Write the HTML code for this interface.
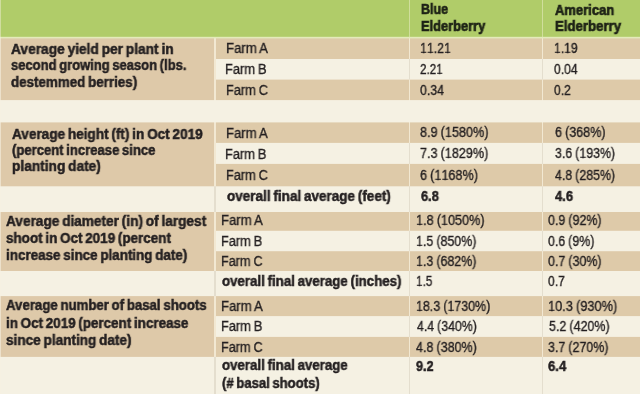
<!DOCTYPE html><html><head><meta charset="utf-8"><style>
html,body{margin:0;padding:0;width:640px;height:394px;overflow:hidden;background:#f5f1e3}
.r{position:absolute}
.o{display:inline-block;line-height:1em;clip-path:polygon(0 0,100% 0,100% 0.785em,0.36em 0.785em,0.36em 100%,0.23em 100%,0.23em 0.785em,0 0.785em)}
.t{position:absolute;white-space:pre;line-height:20px;font-family:"Liberation Sans",sans-serif;color:#231f20;transform-origin:0 0;will-change:transform}
</style></head><body>
<div class="r" style="left:216px;top:0px;width:424px;height:36px;background:#b0cc69"></div>
<div class="r" style="left:216px;top:36px;width:424px;height:1px;background:#bad279"></div>
<div class="r" style="left:216px;top:37px;width:424px;height:1px;background:#e4eabb"></div>
<div class="r" style="left:216px;top:38px;width:424px;height:1px;background:#e0d7b0"></div>
<div class="r" style="left:216px;top:39px;width:424px;height:20px;background:#decaa9"></div>
<div class="r" style="left:216px;top:59px;width:424px;height:20px;background:#f5f1e3"></div>
<div class="r" style="left:216px;top:79px;width:424px;height:1px;background:#ece1cc"></div>
<div class="r" style="left:216px;top:80px;width:424px;height:20px;background:#decaa9"></div>
<div class="r" style="left:216px;top:100px;width:424px;height:1px;background:#f3eddd"></div>
<div class="r" style="left:216px;top:101px;width:424px;height:21px;background:#f5f1e3"></div>
<div class="r" style="left:216px;top:122px;width:424px;height:1px;background:#e7dac0"></div>
<div class="r" style="left:216px;top:123px;width:424px;height:19px;background:#decaa9"></div>
<div class="r" style="left:216px;top:142px;width:424px;height:1px;background:#e0ceaf"></div>
<div class="r" style="left:216px;top:143px;width:424px;height:20px;background:#f5f1e3"></div>
<div class="r" style="left:216px;top:163px;width:424px;height:1px;background:#f3eddd"></div>
<div class="r" style="left:216px;top:164px;width:424px;height:22px;background:#decaa9"></div>
<div class="r" style="left:216px;top:186px;width:424px;height:1px;background:#eee5d2"></div>
<div class="r" style="left:216px;top:187px;width:424px;height:25px;background:#f5f1e3"></div>
<div class="r" style="left:216px;top:212px;width:424px;height:18px;background:#decaa9"></div>
<div class="r" style="left:216px;top:230px;width:424px;height:1px;background:#e3d2b5"></div>
<div class="r" style="left:216px;top:231px;width:424px;height:20px;background:#f5f1e3"></div>
<div class="r" style="left:216px;top:251px;width:424px;height:1px;background:#e3d2b5"></div>
<div class="r" style="left:216px;top:252px;width:424px;height:19px;background:#decaa9"></div>
<div class="r" style="left:216px;top:271px;width:424px;height:25px;background:#f5f1e3"></div>
<div class="r" style="left:216px;top:296px;width:424px;height:1px;background:#e0ceaf"></div>
<div class="r" style="left:216px;top:297px;width:424px;height:19px;background:#decaa9"></div>
<div class="r" style="left:216px;top:316px;width:424px;height:1px;background:#f3eddd"></div>
<div class="r" style="left:216px;top:317px;width:424px;height:19px;background:#f5f1e3"></div>
<div class="r" style="left:216px;top:336px;width:424px;height:1px;background:#f3eddd"></div>
<div class="r" style="left:216px;top:337px;width:424px;height:19px;background:#decaa9"></div>
<div class="r" style="left:216px;top:356px;width:424px;height:1px;background:#e0ceaf"></div>
<div class="r" style="left:216px;top:357px;width:424px;height:37px;background:#f5f1e3"></div>
<div class="r" style="left:0px;top:0px;width:216px;height:36px;background:#b0cc69"></div>
<div class="r" style="left:0px;top:36px;width:216px;height:1px;background:#bad279"></div>
<div class="r" style="left:0px;top:37px;width:216px;height:1px;background:#e4eabb"></div>
<div class="r" style="left:0px;top:38px;width:216px;height:1px;background:#e0d6b0"></div>
<div class="r" style="left:0px;top:39px;width:216px;height:61px;background:#dec9a9"></div>
<div class="r" style="left:0px;top:100px;width:216px;height:1px;background:#f3eddd"></div>
<div class="r" style="left:0px;top:101px;width:216px;height:21px;background:#f5f1e3"></div>
<div class="r" style="left:0px;top:122px;width:216px;height:1px;background:#e7d9c0"></div>
<div class="r" style="left:0px;top:123px;width:216px;height:63px;background:#dec9a9"></div>
<div class="r" style="left:0px;top:186px;width:216px;height:1px;background:#eee5d2"></div>
<div class="r" style="left:0px;top:187px;width:216px;height:25px;background:#f5f1e3"></div>
<div class="r" style="left:0px;top:212px;width:216px;height:59px;background:#dec9a9"></div>
<div class="r" style="left:0px;top:271px;width:216px;height:25px;background:#f5f1e3"></div>
<div class="r" style="left:0px;top:296px;width:216px;height:1px;background:#e0cdaf"></div>
<div class="r" style="left:0px;top:297px;width:216px;height:59px;background:#dec9a9"></div>
<div class="r" style="left:0px;top:356px;width:216px;height:1px;background:#e0cdaf"></div>
<div class="r" style="left:0px;top:357px;width:216px;height:37px;background:#f5f1e3"></div>
<div class="r" style="left:0px;top:0px;width:1px;height:36px;background:#d0dd9f"></div>
<div class="r" style="left:0px;top:36px;width:1px;height:1px;background:#d6e0a8"></div>
<div class="r" style="left:0px;top:37px;width:1px;height:1px;background:#ededcd"></div>
<div class="r" style="left:0px;top:38px;width:1px;height:1px;background:#ede6cc"></div>
<div class="r" style="left:0px;top:39px;width:1px;height:61px;background:#ede1cb"></div>
<div class="r" style="left:0px;top:100px;width:1px;height:1px;background:#f5efe0"></div>
<div class="r" style="left:0px;top:101px;width:1px;height:21px;background:#f6f1e2"></div>
<div class="r" style="left:0px;top:122px;width:1px;height:1px;background:#f1e7d4"></div>
<div class="r" style="left:0px;top:123px;width:1px;height:63px;background:#ede1cb"></div>
<div class="r" style="left:0px;top:186px;width:1px;height:1px;background:#f3ecdb"></div>
<div class="r" style="left:0px;top:187px;width:1px;height:25px;background:#f6f1e2"></div>
<div class="r" style="left:0px;top:212px;width:1px;height:59px;background:#ede1cb"></div>
<div class="r" style="left:0px;top:271px;width:1px;height:25px;background:#f6f1e2"></div>
<div class="r" style="left:0px;top:296px;width:1px;height:1px;background:#eee3cd"></div>
<div class="r" style="left:0px;top:297px;width:1px;height:59px;background:#ede1cb"></div>
<div class="r" style="left:0px;top:356px;width:1px;height:1px;background:#eee3cd"></div>
<div class="r" style="left:0px;top:357px;width:1px;height:37px;background:#f6f1e2"></div>
<div class="r" style="left:214px;top:0px;width:2px;height:36px;background:#b0cc69"></div>
<div class="r" style="left:214px;top:36px;width:2px;height:1px;background:#bad279"></div>
<div class="r" style="left:214px;top:37px;width:2px;height:1px;background:#e4eabb"></div>
<div class="r" style="left:214px;top:38px;width:2px;height:1px;background:#ece9c9"></div>
<div class="r" style="left:214px;top:39px;width:2px;height:61px;background:#f2e8d2"></div>
<div class="r" style="left:214px;top:100px;width:2px;height:1px;background:#f5f0e1"></div>
<div class="r" style="left:214px;top:101px;width:2px;height:21px;background:#f5f1e3"></div>
<div class="r" style="left:214px;top:122px;width:2px;height:1px;background:#f3ecd9"></div>
<div class="r" style="left:214px;top:123px;width:2px;height:63px;background:#f2e8d2"></div>
<div class="r" style="left:214px;top:186px;width:2px;height:1px;background:#e8e1cf"></div>
<div class="r" style="left:214px;top:187px;width:2px;height:25px;background:#e4dece"></div>
<div class="r" style="left:214px;top:212px;width:2px;height:59px;background:#f2e8d2"></div>
<div class="r" style="left:214px;top:271px;width:2px;height:25px;background:#e4dece"></div>
<div class="r" style="left:214px;top:296px;width:2px;height:1px;background:#f1e7d2"></div>
<div class="r" style="left:214px;top:297px;width:2px;height:59px;background:#f2e8d2"></div>
<div class="r" style="left:214px;top:356px;width:2px;height:1px;background:#f1e7d2"></div>
<div class="r" style="left:214px;top:357px;width:2px;height:37px;background:#e4dece"></div>
<div class="r" style="left:409px;top:0px;width:1px;height:36px;background:#d0de9c"></div>
<div class="r" style="left:409px;top:36px;width:1px;height:1px;background:#d4e0a2"></div>
<div class="r" style="left:409px;top:37px;width:1px;height:1px;background:#e4eabb"></div>
<div class="r" style="left:409px;top:38px;width:1px;height:1px;background:#ece9c9"></div>
<div class="r" style="left:409px;top:39px;width:1px;height:20px;background:#f2e8d2"></div>
<div class="r" style="left:409px;top:59px;width:1px;height:20px;background:#e4dece"></div>
<div class="r" style="left:409px;top:79px;width:1px;height:1px;background:#eae2d0"></div>
<div class="r" style="left:409px;top:80px;width:1px;height:20px;background:#f2e8d2"></div>
<div class="r" style="left:409px;top:100px;width:1px;height:1px;background:#f5f0e1"></div>
<div class="r" style="left:409px;top:101px;width:1px;height:21px;background:#f5f1e3"></div>
<div class="r" style="left:409px;top:122px;width:1px;height:1px;background:#f3ecd9"></div>
<div class="r" style="left:409px;top:123px;width:1px;height:19px;background:#f2e8d2"></div>
<div class="r" style="left:409px;top:142px;width:1px;height:1px;background:#f1e7d2"></div>
<div class="r" style="left:409px;top:143px;width:1px;height:20px;background:#e4dece"></div>
<div class="r" style="left:409px;top:163px;width:1px;height:1px;background:#e5dfce"></div>
<div class="r" style="left:409px;top:164px;width:1px;height:22px;background:#f2e8d2"></div>
<div class="r" style="left:409px;top:186px;width:1px;height:1px;background:#e8e1cf"></div>
<div class="r" style="left:409px;top:187px;width:1px;height:25px;background:#e4dece"></div>
<div class="r" style="left:409px;top:212px;width:1px;height:18px;background:#f2e8d2"></div>
<div class="r" style="left:409px;top:230px;width:1px;height:1px;background:#efe6d1"></div>
<div class="r" style="left:409px;top:231px;width:1px;height:20px;background:#e4dece"></div>
<div class="r" style="left:409px;top:251px;width:1px;height:1px;background:#efe6d1"></div>
<div class="r" style="left:409px;top:252px;width:1px;height:19px;background:#f2e8d2"></div>
<div class="r" style="left:409px;top:271px;width:1px;height:25px;background:#e4dece"></div>
<div class="r" style="left:409px;top:296px;width:1px;height:1px;background:#f1e7d2"></div>
<div class="r" style="left:409px;top:297px;width:1px;height:19px;background:#f2e8d2"></div>
<div class="r" style="left:409px;top:316px;width:1px;height:1px;background:#e5dfce"></div>
<div class="r" style="left:409px;top:317px;width:1px;height:19px;background:#e4dece"></div>
<div class="r" style="left:409px;top:336px;width:1px;height:1px;background:#e5dfce"></div>
<div class="r" style="left:409px;top:337px;width:1px;height:19px;background:#f2e8d2"></div>
<div class="r" style="left:409px;top:356px;width:1px;height:1px;background:#f1e7d2"></div>
<div class="r" style="left:409px;top:357px;width:1px;height:37px;background:#e4dece"></div>
<div class="r" style="left:542px;top:0px;width:1px;height:36px;background:#d0de9c"></div>
<div class="r" style="left:542px;top:36px;width:1px;height:1px;background:#d4e0a2"></div>
<div class="r" style="left:542px;top:37px;width:1px;height:1px;background:#e4eabb"></div>
<div class="r" style="left:542px;top:38px;width:1px;height:1px;background:#ece9c9"></div>
<div class="r" style="left:542px;top:39px;width:1px;height:20px;background:#f2e8d2"></div>
<div class="r" style="left:542px;top:59px;width:1px;height:20px;background:#e4dece"></div>
<div class="r" style="left:542px;top:79px;width:1px;height:1px;background:#eae2d0"></div>
<div class="r" style="left:542px;top:80px;width:1px;height:20px;background:#f2e8d2"></div>
<div class="r" style="left:542px;top:100px;width:1px;height:1px;background:#f5f0e1"></div>
<div class="r" style="left:542px;top:101px;width:1px;height:21px;background:#f5f1e3"></div>
<div class="r" style="left:542px;top:122px;width:1px;height:1px;background:#f3ecd9"></div>
<div class="r" style="left:542px;top:123px;width:1px;height:19px;background:#f2e8d2"></div>
<div class="r" style="left:542px;top:142px;width:1px;height:1px;background:#f1e7d2"></div>
<div class="r" style="left:542px;top:143px;width:1px;height:20px;background:#e4dece"></div>
<div class="r" style="left:542px;top:163px;width:1px;height:1px;background:#e5dfce"></div>
<div class="r" style="left:542px;top:164px;width:1px;height:22px;background:#f2e8d2"></div>
<div class="r" style="left:542px;top:186px;width:1px;height:1px;background:#e8e1cf"></div>
<div class="r" style="left:542px;top:187px;width:1px;height:25px;background:#e4dece"></div>
<div class="r" style="left:542px;top:212px;width:1px;height:18px;background:#f2e8d2"></div>
<div class="r" style="left:542px;top:230px;width:1px;height:1px;background:#efe6d1"></div>
<div class="r" style="left:542px;top:231px;width:1px;height:20px;background:#e4dece"></div>
<div class="r" style="left:542px;top:251px;width:1px;height:1px;background:#efe6d1"></div>
<div class="r" style="left:542px;top:252px;width:1px;height:19px;background:#f2e8d2"></div>
<div class="r" style="left:542px;top:271px;width:1px;height:25px;background:#e4dece"></div>
<div class="r" style="left:542px;top:296px;width:1px;height:1px;background:#f1e7d2"></div>
<div class="r" style="left:542px;top:297px;width:1px;height:19px;background:#f2e8d2"></div>
<div class="r" style="left:542px;top:316px;width:1px;height:1px;background:#e5dfce"></div>
<div class="r" style="left:542px;top:317px;width:1px;height:19px;background:#e4dece"></div>
<div class="r" style="left:542px;top:336px;width:1px;height:1px;background:#e5dfce"></div>
<div class="r" style="left:542px;top:337px;width:1px;height:19px;background:#f2e8d2"></div>
<div class="r" style="left:542px;top:356px;width:1px;height:1px;background:#f1e7d2"></div>
<div class="r" style="left:542px;top:357px;width:1px;height:37px;background:#e4dece"></div>
<div class="t" style="left:420.90px;top:-0.80px;font-size:14px;font-weight:bold;transform:scaleX(0.8933);word-spacing:-1.0px;color:#1d2216;-webkit-text-stroke:0.65px #1d2216">Blue</div>
<div class="t" style="left:420.90px;top:15.70px;font-size:14px;font-weight:bold;transform:scaleX(0.9186);word-spacing:-1.0px;color:#1d2216;-webkit-text-stroke:0.65px #1d2216">Elderberry</div>
<div class="t" style="left:554.60px;top:-0.50px;font-size:14px;font-weight:bold;transform:scaleX(0.9281);word-spacing:-1.0px;color:#1d2216;-webkit-text-stroke:0.65px #1d2216">American</div>
<div class="t" style="left:554.60px;top:16.30px;font-size:14px;font-weight:bold;transform:scaleX(0.9443);word-spacing:-1.0px;color:#1d2216;-webkit-text-stroke:0.65px #1d2216">Elderberry</div>
<div class="t" style="left:11.40px;top:38.50px;font-size:14px;font-weight:bold;transform:scaleX(0.9807);word-spacing:-1.0px;color:#231f20;-webkit-text-stroke:0.5px #231f20">Average yield per plant in</div>
<div class="t" style="left:11.40px;top:54.80px;font-size:14px;font-weight:bold;transform:scaleX(0.9275);word-spacing:-1.0px;color:#231f20;-webkit-text-stroke:0.5px #231f20">second growing season (lbs.</div>
<div class="t" style="left:11.40px;top:72.00px;font-size:14px;font-weight:bold;transform:scaleX(0.9553);word-spacing:-1.0px;color:#231f20;-webkit-text-stroke:0.5px #231f20">destemmed berries)</div>
<div class="t" style="left:225.75px;top:39.10px;font-size:13.8px;font-weight:normal;transform:scaleX(0.9535);word-spacing:-0.4px;color:#231f20;-webkit-text-stroke:0.35px #231f20">Farm A</div>
<div class="t" style="left:224.77px;top:59.70px;font-size:13.8px;font-weight:normal;transform:scaleX(0.9302);word-spacing:-0.4px;color:#231f20;-webkit-text-stroke:0.35px #231f20">Farm B</div>
<div class="t" style="left:225.78px;top:80.90px;font-size:13.8px;font-weight:normal;transform:scaleX(0.9227);word-spacing:-0.4px;color:#231f20;-webkit-text-stroke:0.35px #231f20">Farm C</div>
<div class="t" style="left:419.81px;top:39.00px;font-size:13.8px;font-weight:normal;transform:scaleX(0.8909);word-spacing:-0.4px;color:#231f20;-webkit-text-stroke:0.35px #231f20"><span class="o">1</span><span class="o">1</span>.2<span class="o">1</span></div>
<div class="t" style="left:420.20px;top:59.60px;font-size:13.8px;font-weight:normal;transform:scaleX(0.8444);word-spacing:-0.4px;color:#231f20;-webkit-text-stroke:0.35px #231f20">2.2<span class="o">1</span></div>
<div class="t" style="left:420.20px;top:80.60px;font-size:13.8px;font-weight:normal;transform:scaleX(0.8889);word-spacing:-0.4px;color:#231f20;-webkit-text-stroke:0.35px #231f20">0.34</div>
<div class="t" style="left:554.32px;top:39.00px;font-size:13.8px;font-weight:normal;transform:scaleX(0.8769);word-spacing:-0.4px;color:#231f20;-webkit-text-stroke:0.35px #231f20"><span class="o">1</span>.<span class="o">1</span>9</div>
<div class="t" style="left:554.40px;top:59.60px;font-size:13.8px;font-weight:normal;transform:scaleX(0.8741);word-spacing:-0.4px;color:#231f20;-webkit-text-stroke:0.35px #231f20">0.04</div>
<div class="t" style="left:554.40px;top:80.60px;font-size:13.8px;font-weight:normal;transform:scaleX(0.8737);word-spacing:-0.4px;color:#231f20;-webkit-text-stroke:0.35px #231f20">0.2</div>
<div class="t" style="left:11.50px;top:123.60px;font-size:14px;font-weight:bold;transform:scaleX(0.9690);word-spacing:-1.0px;color:#231f20;-webkit-text-stroke:0.5px #231f20">Average height (ft) in Oct 2019</div>
<div class="t" style="left:11.50px;top:139.60px;font-size:14px;font-weight:bold;transform:scaleX(0.9338);word-spacing:-1.0px;color:#231f20;-webkit-text-stroke:0.5px #231f20">(percent increase since</div>
<div class="t" style="left:11.60px;top:156.00px;font-size:14px;font-weight:bold;transform:scaleX(0.9791);word-spacing:-1.0px;color:#231f20;-webkit-text-stroke:0.5px #231f20">planting date)</div>
<div class="t" style="left:225.85px;top:123.80px;font-size:13.8px;font-weight:normal;transform:scaleX(0.9488);word-spacing:-0.4px;color:#231f20;-webkit-text-stroke:0.35px #231f20">Farm A</div>
<div class="t" style="left:225.17px;top:144.70px;font-size:13.8px;font-weight:normal;transform:scaleX(0.9256);word-spacing:-0.4px;color:#231f20;-webkit-text-stroke:0.35px #231f20">Farm B</div>
<div class="t" style="left:225.88px;top:165.50px;font-size:13.8px;font-weight:normal;transform:scaleX(0.9205);word-spacing:-0.4px;color:#231f20;-webkit-text-stroke:0.35px #231f20">Farm C</div>
<div class="t" style="left:226.80px;top:186.10px;font-size:14px;font-weight:bold;transform:scaleX(0.9653);word-spacing:-1.0px;color:#231f20;-webkit-text-stroke:0.5px #231f20">overall final average (feet)</div>
<div class="t" style="left:420.30px;top:123.10px;font-size:13.8px;font-weight:normal;transform:scaleX(0.9149);word-spacing:-0.4px;color:#231f20;-webkit-text-stroke:0.35px #231f20">8.9 (<span class="o">1</span>580%)</div>
<div class="t" style="left:420.30px;top:143.70px;font-size:13.8px;font-weight:normal;transform:scaleX(0.9122);word-spacing:-0.4px;color:#231f20;-webkit-text-stroke:0.35px #231f20">7.3 (<span class="o">1</span>829%)</div>
<div class="t" style="left:420.10px;top:165.70px;font-size:13.8px;font-weight:normal;transform:scaleX(0.9143);word-spacing:-0.4px;color:#231f20;-webkit-text-stroke:0.35px #231f20">6 (<span class="o">1</span><span class="o">1</span>68%)</div>
<div class="t" style="left:420.50px;top:185.70px;font-size:14px;font-weight:bold;transform:scaleX(0.9150);word-spacing:-1.0px;color:#231f20;-webkit-text-stroke:0.5px #231f20">6.8</div>
<div class="t" style="left:554.60px;top:123.10px;font-size:13.8px;font-weight:normal;transform:scaleX(0.9091);word-spacing:-0.4px;color:#231f20;-webkit-text-stroke:0.35px #231f20">6 (368%)</div>
<div class="t" style="left:554.80px;top:144.20px;font-size:13.8px;font-weight:normal;transform:scaleX(0.8955);word-spacing:-0.4px;color:#231f20;-webkit-text-stroke:0.35px #231f20">3.6 (<span class="o">1</span>93%)</div>
<div class="t" style="left:554.60px;top:165.70px;font-size:13.8px;font-weight:normal;transform:scaleX(0.8955);word-spacing:-0.4px;color:#231f20;-webkit-text-stroke:0.35px #231f20">4.8 (285%)</div>
<div class="t" style="left:554.60px;top:185.70px;font-size:14px;font-weight:bold;transform:scaleX(0.9250);word-spacing:-1.0px;color:#231f20;-webkit-text-stroke:0.5px #231f20">4.6</div>
<div class="t" style="left:6.20px;top:211.00px;font-size:14px;font-weight:bold;transform:scaleX(0.9738);word-spacing:-1.0px;color:#231f20;-webkit-text-stroke:0.5px #231f20">Average diameter (in) of largest</div>
<div class="t" style="left:6.20px;top:228.20px;font-size:14px;font-weight:bold;transform:scaleX(0.9599);word-spacing:-1.0px;color:#231f20;-webkit-text-stroke:0.5px #231f20">shoot in Oct 2019 (percent</div>
<div class="t" style="left:6.20px;top:245.00px;font-size:14px;font-weight:bold;transform:scaleX(0.9582);word-spacing:-1.0px;color:#231f20;-webkit-text-stroke:0.5px #231f20">increase since planting date)</div>
<div class="t" style="left:221.30px;top:210.90px;font-size:13.8px;font-weight:normal;transform:scaleX(0.9500);word-spacing:-0.4px;color:#231f20;-webkit-text-stroke:0.35px #231f20">Farm A</div>
<div class="t" style="left:221.33px;top:231.50px;font-size:13.8px;font-weight:normal;transform:scaleX(0.9221);word-spacing:-0.4px;color:#231f20;-webkit-text-stroke:0.35px #231f20">Farm B</div>
<div class="t" style="left:221.34px;top:251.60px;font-size:13.8px;font-weight:normal;transform:scaleX(0.9148);word-spacing:-0.4px;color:#231f20;-webkit-text-stroke:0.35px #231f20">Farm C</div>
<div class="t" style="left:222.25px;top:270.60px;font-size:14px;font-weight:bold;transform:scaleX(0.9484);word-spacing:-1.0px;color:#231f20;-webkit-text-stroke:0.5px #231f20">overall final average (inches)</div>
<div class="t" style="left:415.98px;top:210.90px;font-size:13.8px;font-weight:normal;transform:scaleX(0.9158);word-spacing:-0.4px;color:#231f20;-webkit-text-stroke:0.35px #231f20"><span class="o">1</span>.8 (<span class="o">1</span>050%)</div>
<div class="t" style="left:416.00px;top:231.50px;font-size:13.8px;font-weight:normal;transform:scaleX(0.8992);word-spacing:-0.4px;color:#231f20;-webkit-text-stroke:0.35px #231f20"><span class="o">1</span>.5 (850%)</div>
<div class="t" style="left:416.00px;top:252.00px;font-size:13.8px;font-weight:normal;transform:scaleX(0.8992);word-spacing:-0.4px;color:#231f20;-webkit-text-stroke:0.35px #231f20"><span class="o">1</span>.3 (682%)</div>
<div class="t" style="left:416.05px;top:271.60px;font-size:13.8px;font-weight:normal;transform:scaleX(0.8528);word-spacing:-0.4px;color:#231f20;-webkit-text-stroke:0.35px #231f20"><span class="o">1</span>.5</div>
<div class="t" style="left:548.10px;top:210.90px;font-size:13.8px;font-weight:normal;transform:scaleX(0.9008);word-spacing:-0.4px;color:#231f20;-webkit-text-stroke:0.35px #231f20">0.9 (92%)</div>
<div class="t" style="left:548.10px;top:231.50px;font-size:13.8px;font-weight:normal;transform:scaleX(0.8951);word-spacing:-0.4px;color:#231f20;-webkit-text-stroke:0.35px #231f20">0.6 (9%)</div>
<div class="t" style="left:548.10px;top:252.00px;font-size:13.8px;font-weight:normal;transform:scaleX(0.9008);word-spacing:-0.4px;color:#231f20;-webkit-text-stroke:0.35px #231f20">0.7 (30%)</div>
<div class="t" style="left:548.10px;top:271.60px;font-size:13.8px;font-weight:normal;transform:scaleX(0.8763);word-spacing:-0.4px;color:#231f20;-webkit-text-stroke:0.35px #231f20">0.7</div>
<div class="t" style="left:6.20px;top:295.40px;font-size:14px;font-weight:bold;transform:scaleX(0.9441);word-spacing:-1.0px;color:#231f20;-webkit-text-stroke:0.5px #231f20">Average number of basal shoots</div>
<div class="t" style="left:6.20px;top:313.20px;font-size:14px;font-weight:bold;transform:scaleX(0.9571);word-spacing:-1.0px;color:#231f20;-webkit-text-stroke:0.5px #231f20">in Oct 2019 (percent increase</div>
<div class="t" style="left:6.20px;top:330.00px;font-size:14px;font-weight:bold;transform:scaleX(0.9698);word-spacing:-1.0px;color:#231f20;-webkit-text-stroke:0.5px #231f20">since planting date)</div>
<div class="t" style="left:221.30px;top:296.75px;font-size:13.8px;font-weight:normal;transform:scaleX(0.9500);word-spacing:-0.4px;color:#231f20;-webkit-text-stroke:0.35px #231f20">Farm A</div>
<div class="t" style="left:221.33px;top:317.00px;font-size:13.8px;font-weight:normal;transform:scaleX(0.9244);word-spacing:-0.4px;color:#231f20;-webkit-text-stroke:0.35px #231f20">Farm B</div>
<div class="t" style="left:221.28px;top:337.50px;font-size:13.8px;font-weight:normal;transform:scaleX(0.9159);word-spacing:-0.4px;color:#231f20;-webkit-text-stroke:0.35px #231f20">Farm C</div>
<div class="t" style="left:222.00px;top:355.40px;font-size:14px;font-weight:bold;transform:scaleX(0.9481);word-spacing:-1.0px;color:#231f20;-webkit-text-stroke:0.5px #231f20">overall final average</div>
<div class="t" style="left:222.00px;top:372.90px;font-size:14px;font-weight:bold;transform:scaleX(0.9333);word-spacing:-1.0px;color:#231f20;-webkit-text-stroke:0.5px #231f20">(# basal shoots)</div>
<div class="t" style="left:415.60px;top:296.75px;font-size:13.8px;font-weight:normal;transform:scaleX(0.9000);word-spacing:-0.4px;color:#231f20;-webkit-text-stroke:0.35px #231f20"><span class="o">1</span>8.3 (<span class="o">1</span>730%)</div>
<div class="t" style="left:416.50px;top:317.00px;font-size:13.8px;font-weight:normal;transform:scaleX(0.8918);word-spacing:-0.4px;color:#231f20;-webkit-text-stroke:0.35px #231f20">4.4 (340%)</div>
<div class="t" style="left:416.10px;top:338.00px;font-size:13.8px;font-weight:normal;transform:scaleX(0.9060);word-spacing:-0.4px;color:#231f20;-webkit-text-stroke:0.35px #231f20">4.8 (380%)</div>
<div class="t" style="left:416.10px;top:356.30px;font-size:14px;font-weight:bold;transform:scaleX(0.9000);word-spacing:-1.0px;color:#231f20;-webkit-text-stroke:0.5px #231f20">9.2</div>
<div class="t" style="left:547.83px;top:296.75px;font-size:13.8px;font-weight:normal;transform:scaleX(0.9247);word-spacing:-0.4px;color:#231f20;-webkit-text-stroke:0.35px #231f20"><span class="o">1</span>0.3 (930%)</div>
<div class="t" style="left:548.50px;top:317.00px;font-size:13.8px;font-weight:normal;transform:scaleX(0.9030);word-spacing:-0.4px;color:#231f20;-webkit-text-stroke:0.35px #231f20">5.2 (420%)</div>
<div class="t" style="left:548.40px;top:338.00px;font-size:13.8px;font-weight:normal;transform:scaleX(0.9000);word-spacing:-0.4px;color:#231f20;-webkit-text-stroke:0.35px #231f20">3.7 (270%)</div>
<div class="t" style="left:548.40px;top:356.30px;font-size:14px;font-weight:bold;transform:scaleX(0.9350);word-spacing:-1.0px;color:#231f20;-webkit-text-stroke:0.5px #231f20">6.4</div>
</body></html>
